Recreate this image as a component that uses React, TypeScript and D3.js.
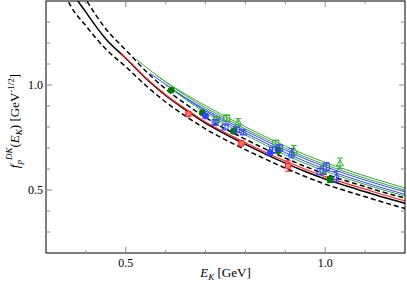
import * as d3 from "d3";
import React from "react";

// ---- curves (E_K in GeV, f_p in GeV^-1/2) ----
const bandE = [0.34, 0.36, 0.4, 0.45, 0.5, 0.55, 0.6, 0.65, 0.7, 0.75, 0.8, 0.85, 0.9, 0.95, 1.0, 1.05, 1.1, 1.15, 1.2];
const central = [1.56, 1.465, 1.347, 1.219, 1.127, 1.032, 0.95, 0.881, 0.818, 0.765, 0.717, 0.671, 0.628, 0.588, 0.552, 0.521, 0.492, 0.463, 0.437];
const upper = [1.635, 1.535, 1.407, 1.267, 1.167, 1.067, 0.981, 0.91, 0.845, 0.791, 0.742, 0.695, 0.652, 0.612, 0.576, 0.545, 0.516, 0.487, 0.462];
const lower = [1.465, 1.383, 1.282, 1.171, 1.087, 0.998, 0.919, 0.852, 0.791, 0.739, 0.692, 0.647, 0.604, 0.564, 0.528, 0.497, 0.468, 0.439, 0.412];

const redE = [0.488, 0.5, 0.55, 0.6, 0.65, 0.7, 0.75, 0.8, 0.85, 0.9, 0.95, 1.0, 1.05, 1.1, 1.15, 1.2];
const redF = [1.15, 1.129, 1.035, 0.954, 0.886, 0.824, 0.772, 0.725, 0.68, 0.638, 0.599, 0.564, 0.533, 0.504, 0.475, 0.448];

// ensemble fit lines
const green1E = [0.527, 0.6, 0.65, 0.75, 0.85, 0.95, 1.05, 1.2];
const green1F = [1.122, 1.015, 0.956, 0.85, 0.754, 0.668, 0.598, 0.51];
const green2E = [0.578, 0.65, 0.75, 0.85, 0.95, 1.05, 1.2];
const green2F = [1.045, 0.949, 0.84, 0.744, 0.657, 0.587, 0.5];
const green3E = [0.619, 0.65, 0.75, 0.85, 0.95, 1.05, 1.2];
const green3F = [0.975, 0.931, 0.813, 0.714, 0.626, 0.557, 0.471];
const blue1E = [0.561, 0.65, 0.75, 0.85, 0.95, 1.05, 1.2];
const blue1F = [1.055, 0.939, 0.831, 0.735, 0.648, 0.578, 0.491];
const blue2E = [0.602, 0.65, 0.75, 0.85, 0.95, 1.05, 1.2];
const blue2F = [1.0, 0.936, 0.822, 0.724, 0.636, 0.566, 0.479];

// ---- lattice points ----
const redPtE = [0.657, 0.79, 0.907];
const redPtF = [0.862, 0.722, 0.614];
const redPtErr = [0.012, 0.012, 0.025];

const dgCircE = [0.614, 0.692, 0.77, 0.882, 1.012];
const dgCircF = [0.975, 0.868, 0.78, 0.688, 0.55];
const dgCircErr = [0.008, 0.008, 0.01, 0.012, 0.015];

const gSqE = [0.728, 0.753, 0.876, 0.995];
const gSqF = [0.835, 0.842, 0.722, 0.598];
const gSqErr = [0.012, 0.015, 0.015, 0.02];

const gTriE = [0.782, 0.921, 1.037];
const gTriF = [0.822, 0.69, 0.627];
const gTriErr = [0.018, 0.022, 0.025];

const bSqE = [0.724, 0.749, 0.778, 0.868, 0.885, 0.987, 1.003];
const bSqF = [0.822, 0.8, 0.787, 0.69, 0.7, 0.588, 0.61];
const bSqErr = [0.01, 0.01, 0.012, 0.012, 0.015, 0.015, 0.02];

const bTriE = [0.795, 0.916, 1.028];
const bTriF = [0.775, 0.675, 0.563];
const bTriErr = [0.012, 0.022, 0.025];

const bCircE = [0.7, 0.862];
const bCircF = [0.852, 0.678];
const bCircErr = [0.01, 0.012];

const xTicks = [0.5, 1.0];
const yTicks = [0.5, 1.0];

const W = 407;
const H = 285;
const m = { left: 46, right: 2, top: 1, bottom: 32 };
const GREEN = "#33aa33";
const DKGREEN = "#007a00";
const BLUE = "#3344ff";
const RED = "#ff2020";
const SERIF = "'Liberation Serif', 'Times New Roman', serif";

const App = () => {
  const x = d3.scaleLinear().domain([0.3, 1.2]).range([m.left, W - m.right]);
  const y = d3.scaleLinear().domain([0.2, 1.4]).range([H - m.bottom, m.top]);
  const line = (es: number[], fs: number[]) =>
    d3
      .line<number>()
      .x((d, i) => x(es[i]))
      .y((d) => y(d))
      .curve(d3.curveMonotoneX)(fs) || "";

  const minorX = d3.range(0.4, 1.2, 0.1);
  const minorY = d3.range(0.3, 1.35, 0.1);
  const isMajor = (ticks: number[], t: number) => ticks.some((v) => Math.abs(v - t) < 1e-6);
  const x0 = m.left,
    x1 = W - m.right,
    y0 = H - m.bottom,
    y1 = m.top;

  const errBars = (es: number[], fs: number[], errs: number[], color: string) =>
    es.map((e, i) => {
      const cx = x(e);
      return (
        <g key={"e" + i} stroke={color} strokeWidth={1}>
          <line x1={cx} x2={cx} y1={y(fs[i] + errs[i])} y2={y(fs[i] - errs[i])} />
          <line x1={cx - 3} x2={cx + 3} y1={y(fs[i] + errs[i])} y2={y(fs[i] + errs[i])} />
          <line x1={cx - 3} x2={cx + 3} y1={y(fs[i] - errs[i])} y2={y(fs[i] - errs[i])} />
        </g>
      );
    });

  const symbols = (es: number[], fs: number[], kind: string, color: string, fill: string) =>
    es.map((e, i) => {
      const cx = x(e),
        cy = y(fs[i]);
      if (kind === "circle")
        return <circle key={i} cx={cx} cy={cy} r={3} fill={fill} stroke={color} strokeWidth={1} />;
      if (kind === "square")
        return <rect key={i} x={cx - 3} y={cy - 3} width={6} height={6} fill={fill} stroke={color} strokeWidth={1} />;
      return (
        <path
          key={i}
          d={`M${cx},${cy - 3.5}L${cx + 3.5},${cy + 2.5}L${cx - 3.5},${cy + 2.5}Z`}
          fill={fill}
          stroke={color}
          strokeWidth={1}
        />
      );
    });

  return (
    <svg width={W} height={H} style={{ position: "absolute", left: 0, top: 0, fontFamily: SERIF }}>
      <defs>
        <clipPath id="plot">
          <rect x={x0} y={y1} width={x1 - x0} height={y0 - y1} />
        </clipPath>
      </defs>
      <rect width={W} height={H} fill="#fff" />
      <g clipPath="url(#plot)" fill="none">
        <path d={line(bandE, upper)} stroke="#000" strokeWidth={1.5} strokeDasharray="5,3" />
        <path d={line(bandE, lower)} stroke="#000" strokeWidth={1.5} strokeDasharray="5,3" />
        <path d={line(bandE, central)} stroke="#000" strokeWidth={1.5} />
        <path d={line(redE, redF)} stroke={RED} strokeWidth={1.2} />
        <path d={line(green1E, green1F)} stroke={GREEN} strokeWidth={1} />
        <path d={line(blue1E, blue1F)} stroke={BLUE} strokeWidth={1} />
        <path d={line(green2E, green2F)} stroke={GREEN} strokeWidth={1} />
        <path d={line(blue2E, blue2F)} stroke={BLUE} strokeWidth={1} />
        <path d={line(green3E, green3F)} stroke={GREEN} strokeWidth={1} />
      </g>
      <g>
        {errBars(redPtE, redPtF, redPtErr, RED)}
        {symbols(redPtE, redPtF, "circle", RED, "#ff7070")}
        {errBars(dgCircE, dgCircF, dgCircErr, DKGREEN)}
        {symbols(dgCircE, dgCircF, "circle", DKGREEN, DKGREEN)}
        {errBars(bCircE, bCircF, bCircErr, BLUE)}
        {symbols(bCircE, bCircF, "circle", BLUE, BLUE)}
        {errBars(gSqE, gSqF, gSqErr, GREEN)}
        {symbols(gSqE, gSqF, "square", GREEN, "none")}
        {errBars(bSqE, bSqF, bSqErr, BLUE)}
        {symbols(bSqE, bSqF, "square", BLUE, "none")}
        {errBars(gTriE, gTriF, gTriErr, GREEN)}
        {symbols(gTriE, gTriF, "tri", GREEN, "none")}
        {errBars(bTriE, bTriF, bTriErr, BLUE)}
        {symbols(bTriE, bTriF, "tri", BLUE, "none")}
      </g>
      {/* frame + ticks */}
      <rect x={x0} y={y1} width={x1 - x0} height={y0 - y1} fill="none" stroke="#000" strokeWidth={1} />
      <g stroke="#888" strokeWidth={1}>
        {minorX.map((t, i) => (
          <g key={"mx" + i}>
            <line x1={x(t)} x2={x(t)} y1={y0} y2={y0 - (isMajor(xTicks, t) ? 6 : 3)} />
            <line x1={x(t)} x2={x(t)} y1={y1} y2={y1 + (isMajor(xTicks, t) ? 6 : 3)} />
          </g>
        ))}
        {minorY.map((t, i) => (
          <g key={"my" + i}>
            <line x1={x0} x2={x0 + (isMajor(yTicks, t) ? 6 : 4)} y1={y(t)} y2={y(t)} />
            <line x1={x1} x2={x1 - (isMajor(yTicks, t) ? 6 : 4)} y1={y(t)} y2={y(t)} />
          </g>
        ))}
      </g>
      <g fontSize={12} fill="#000">
        {xTicks.map((t) => (
          <text key={"xt" + t} x={x(t)} y={y0 + 14} textAnchor="middle">
            {d3.format(".1f")(t)}
          </text>
        ))}
        {yTicks.map((t) => (
          <text key={"yt" + t} x={x0 - 3} y={y(t) + 4} textAnchor="end">
            {d3.format(".1f")(t)}
          </text>
        ))}
      </g>
      <text x={(x0 + x1) / 2} y={277} textAnchor="middle" fontSize={13}>
        <tspan fontStyle="italic">E</tspan>
        <tspan fontSize={9} fontStyle="italic" dy={3}>K</tspan>
        <tspan dy={-3}> [GeV]</tspan>
      </text>
      <text transform={`translate(19, ${(y0 + y1) / 2 - 6}) rotate(-90)`} textAnchor="middle" fontSize={13}>
        <tspan fontStyle="italic">f</tspan>
        <tspan fontSize={9} fontStyle="italic" dy={3}>p</tspan>
        <tspan fontSize={9} fontStyle="italic" dy={-10}>DK</tspan>
        <tspan dy={7}>(</tspan>
        <tspan fontStyle="italic">E</tspan>
        <tspan fontSize={9} fontStyle="italic" dy={3}>K</tspan>
        <tspan dy={-3}>)  [GeV</tspan>
        <tspan fontSize={9} dy={-5}>-1/2</tspan>
        <tspan dy={5}>]</tspan>
      </text>
    </svg>
  );
};

export default App;
